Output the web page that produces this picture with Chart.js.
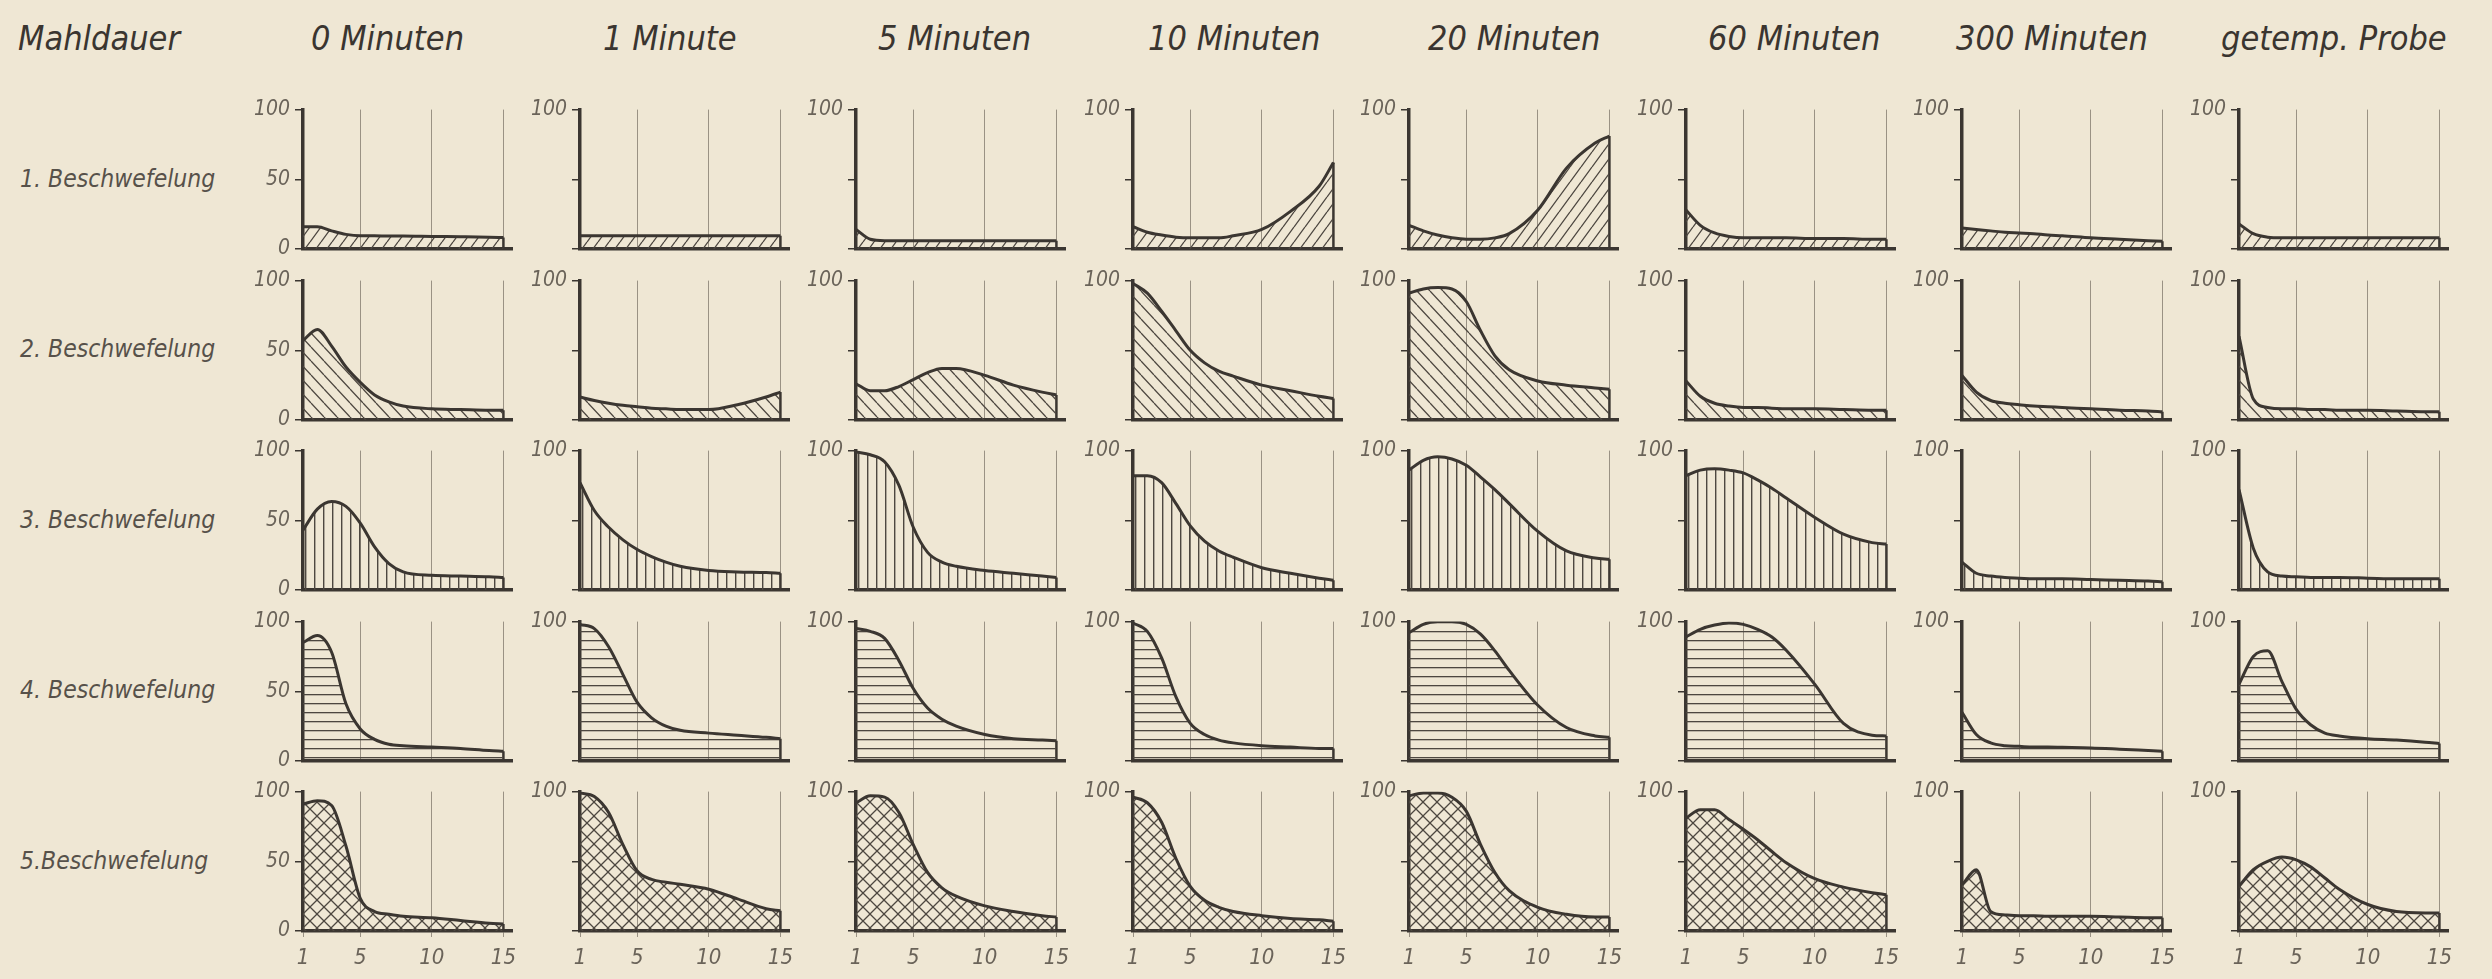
<!DOCTYPE html>
<html>
<head>
<meta charset="utf-8">
<script src="https://cdn.jsdelivr.net/npm/chart.js@4.4.1/dist/chart.umd.min.js"></script>
<style>
  html, body { margin: 0; padding: 0; background: #efe7d4; }
  #page { position: relative; width: 2492px; height: 979px; overflow: hidden; background: #efe7d4; }
  .title, .rowlabel { position: absolute; white-space: nowrap; font-family: 'DejaVu Sans Condensed', 'DejaVu Sans', sans-serif; font-style: oblique; }
  .title { font-size: 34px; line-height: 34px; color: #3a3530; top: 21px; }
  .rowlabel { font-size: 24.5px; line-height: 25px; color: #57514a; left: 20px; transform: translateY(-50%); }
  canvas { position: absolute; }
</style>
</head>
<body>
<div id="page"></div>
<script>
// Mahldauer (columns) and Beschwefelung (rows)
const mahldauer = ['0 Minuten', '1 Minute', '5 Minuten', '10 Minuten', '20 Minuten', '60 Minuten', '300 Minuten', 'getemp. Probe'];
const rowLabels = ['1. Beschwefelung', '2. Beschwefelung', '3. Beschwefelung', '4. Beschwefelung', '5.Beschwefelung'];
const xValues = [1, 2, 3, 4, 5, 6, 7, 8, 10, 12, 14, 15];
const xTicks = [1, 5, 10, 15];
const yTicks = [0, 50, 100];

// one list per Beschwefelung, one series per Mahldauer
const beschwefelung1 = [
  [16, 16, 13, 10.5, 9.5, 9.5, 9.3, 9.3, 9, 8.8, 8.5, 8.2],
  [9.5, 9.5, 9.5, 9.5, 9.5, 9.5, 9.5, 9.5, 9.5, 9.5, 9.5, 9.5],
  [14, 7, 6, 6, 6, 6, 6, 6, 6, 6, 6, 6],
  [16, 12, 10, 8.5, 8, 8, 8, 9.5, 14, 27, 45, 62],
  [17, 13, 10, 8, 7, 7, 8, 11, 28, 58, 76, 81],
  [28, 17, 11.5, 9, 8, 8, 8, 8, 7.5, 7.5, 7, 7],
  [15, 14, 13, 12, 11.5, 11, 10, 9.5, 8, 7, 6, 5.5],
  [18, 11, 8.5, 8, 8, 8, 8, 8, 8, 8, 8, 8]
];
const beschwefelung2 = [
  [57, 65, 53, 38, 27, 18, 13, 10, 8, 7.5, 7, 7],
  [16.5, 14, 12, 10.5, 9.5, 8.5, 8, 7.5, 7.5, 11, 16.5, 20],
  [26, 21, 21, 24, 29, 34, 37, 37, 32, 25, 20, 18],
  [98, 91, 78, 64, 50, 41, 35, 31.5, 25, 21, 17, 15.5],
  [91, 94, 95, 94, 85, 64, 46, 36, 28, 25, 23, 22],
  [28, 17, 12, 10, 9, 9, 8.5, 8, 8, 7.5, 7, 7],
  [32, 20, 14, 12, 11, 10, 9.5, 9, 8, 7, 6.5, 6],
  [60, 15, 9, 8, 8, 7.5, 7.5, 7, 7, 6.5, 6, 6]
];
const beschwefelung3 = [
  [43, 58, 63.5, 60, 48, 31, 19, 13, 10.5, 10, 9.5, 9],
  [77, 57, 45, 36, 29, 24, 20, 17, 14, 13, 12.5, 12],
  [99, 97, 92, 75, 45, 27, 20, 17, 14, 12, 10, 9],
  [82, 82, 77, 62, 46, 35, 28, 23.5, 16, 12, 8.5, 7],
  [86, 93, 95.5, 94, 89.5, 81, 72, 62, 42, 28, 23, 22],
  [82, 86, 87, 86, 84, 79, 73, 66, 52, 40, 34, 33],
  [20, 12, 10, 9, 8.5, 8, 8, 8, 7.5, 7, 6.5, 6],
  [72, 30, 13, 10, 9.5, 9, 9, 9, 8.5, 8, 8, 8]
];
const beschwefelung4 = [
  [85, 90, 78, 41, 23, 15.5, 12, 11, 10, 9, 7.5, 7],
  [98, 95, 82, 62, 42, 31, 25, 22, 20, 18.5, 17, 16],
  [95, 93, 88, 72, 52, 38, 30, 25, 19, 16, 15, 14.5],
  [99, 93, 74, 46, 27, 19, 15, 13, 11, 10, 9, 9],
  [92, 98, 100, 100, 98, 91, 79, 65, 40, 24, 18, 17],
  [89, 94.5, 97.5, 99, 98, 94.5, 89, 79.5, 55, 27, 18.5, 18],
  [35, 19, 13, 11, 10.5, 10, 10, 9.8, 9.4, 8.5, 7.5, 7],
  [55, 75, 79, 57, 37, 26, 20, 18, 16, 15, 13.5, 12.5]
];
const beschwefelung5 = [
  [91, 93.5, 90, 61, 23.5, 14, 12, 10.5, 9.5, 7.5, 5.5, 5],
  [99, 96.5, 85, 62, 43, 37, 35, 33.5, 30, 23, 16, 14.5],
  [92, 97, 96, 85, 62, 42, 31, 25, 18, 14, 11, 10],
  [96, 92, 78, 52, 32, 22, 17, 14, 11, 9, 8, 7],
  [97, 99, 99, 96, 86, 62, 42, 29, 17, 12, 10, 10],
  [81, 87, 87, 80, 73, 65.5, 57, 49, 37.5, 31.5, 27.5, 26],
  [33, 44, 14, 11.5, 11, 11, 10.5, 10.5, 10.5, 10, 9.5, 9.5],
  [32, 44, 50, 53, 51, 46, 38, 30, 19, 14, 13, 13]
];
const rows = [beschwefelung1, beschwefelung2, beschwefelung3, beschwefelung4, beschwefelung5];
const hatchKinds = ['slash', 'back', 'vert', 'horiz', 'cross'];

const INK = '#3b3631';
const GRID = '#9a9284';
const HATCH = '#4d4740';
const LABEL = '#6a6359';
const FONT = "'DejaVu Sans Condensed', 'DejaVu Sans', sans-serif";

// layout of the grid of small charts
const COL0 = 303, COL_STEP = 276.5;
const ROW0 = 106, ROW_STEP = 170.5;
const YW = 70, PT = 14, PR = 16, XH = 45;
const PLOT_W = 209, PLOT_H = 143;
const titleLeft = [311, 603, 878, 1148, 1428, 1708, 1956, 2221];

function hatch(kind) {
  const c = document.createElement('canvas');
  const ctx = c.getContext('2d');
  let w = 12, h = 12;
  if (kind === 'slash') { w = 11; h = 15; }
  if (kind === 'back') { w = 13; h = 14; }
  if (kind === 'vert' || kind === 'horiz') { w = 9; h = 9; }
  if (kind === 'cross') { w = 14; h = 14; }
  c.width = w; c.height = h;
  ctx.strokeStyle = HATCH;
  ctx.fillStyle = HATCH;
  ctx.lineWidth = 1.3;
  if (kind === 'vert') ctx.fillRect(0, 0, 1.4, h);
  if (kind === 'horiz') ctx.fillRect(0, 0, w, 1.3);
  if (kind === 'slash' || kind === 'cross') {
    ctx.beginPath();
    for (let k = -1; k <= 1; k++) { ctx.moveTo(k * w, h); ctx.lineTo(k * w + w, 0); }
    ctx.stroke();
  }
  if (kind === 'back' || kind === 'cross') {
    ctx.beginPath();
    for (let k = -1; k <= 1; k++) { ctx.moveTo(k * w, 0); ctx.lineTo(k * w + w, h); }
    ctx.stroke();
  }
  return ctx.createPattern(c, 'repeat');
}

const page = document.getElementById('page');

function addText(cls, text, style) {
  const d = document.createElement('div');
  d.className = cls;
  d.textContent = text;
  Object.assign(d.style, style);
  page.appendChild(d);
  return d;
}

addText('title', 'Mahldauer', { left: '18px' });
mahldauer.forEach((t, c) => {
  addText('title', t, { left: titleLeft[c] + 'px' });
});
rowLabels.forEach((t, r) => {
  addText('rowlabel', t, { top: (ROW0 + ROW_STEP * r + PLOT_H / 2) + 'px' });
});

rows.forEach((series, r) => {
  const pattern = hatch(hatchKinds[r]);
  const isBottom = r === rows.length - 1;
  series.forEach((vals, c) => {
    const cv = document.createElement('canvas');
    cv.width = YW + PLOT_W + PR;
    cv.height = PT + PLOT_H + XH;
    cv.style.left = Math.round(COL0 + COL_STEP * c - YW) + 'px';
    cv.style.top = Math.round(ROW0 + ROW_STEP * r - PT) + 'px';
    page.appendChild(cv);

    const last = xValues.length - 1;
    new Chart(cv, {
      type: 'line',
      data: {
        datasets: [
          {
            data: xValues.map((x, i) => ({ x: x, y: vals[i] })),
            fill: 'origin',
            backgroundColor: pattern,
            borderColor: INK,
            borderWidth: 3,
            pointRadius: 0,
            cubicInterpolationMode: 'monotone'
          },
          {
            // closing edge at the last measured point
            data: [{ x: xValues[last], y: 0 }, { x: xValues[last], y: vals[last] }],
            borderColor: INK,
            borderWidth: 2.5,
            pointRadius: 0,
            fill: false
          }
        ]
      },
      options: {
        responsive: false,
        animation: false,
        devicePixelRatio: 1,
        events: [],
        layout: { padding: { top: PT, right: PR, left: 0, bottom: 0 } },
        plugins: { legend: { display: false }, tooltip: { enabled: false } },
        scales: {
          x: {
            type: 'linear',
            min: 1,
            max: 15.6,
            afterBuildTicks: (s) => { s.ticks = xTicks.map(v => ({ value: v })); },
            afterFit: (s) => { s.height = XH; },
            grid: { color: GRID, lineWidth: 1, drawTicks: isBottom, tickLength: 6, tickColor: GRID },
            border: { color: INK, width: 3.5 },
            ticks: {
              display: isBottom,
              color: LABEL,
              padding: 8,
              maxRotation: 0,
              autoSkip: false,
              font: { family: FONT, size: 22, style: 'italic' }
            }
          },
          y: {
            type: 'linear',
            min: 0,
            max: 100,
            afterBuildTicks: (s) => { s.ticks = yTicks.map(v => ({ value: v })); },
            afterFit: (s) => { s.width = YW; },
            grid: { drawOnChartArea: false, drawTicks: true, tickLength: 8, color: INK, lineWidth: 1.5 },
            border: { color: INK, width: 3.5 },
            ticks: {
              color: LABEL,
              padding: 5,
              font: { family: FONT, size: 21, style: 'italic' },
              callback: (v) => (c === 0 || v === 100) ? String(v) : ''
            }
          }
        }
      }
    });
  });
});
</script>
</body>
</html>
